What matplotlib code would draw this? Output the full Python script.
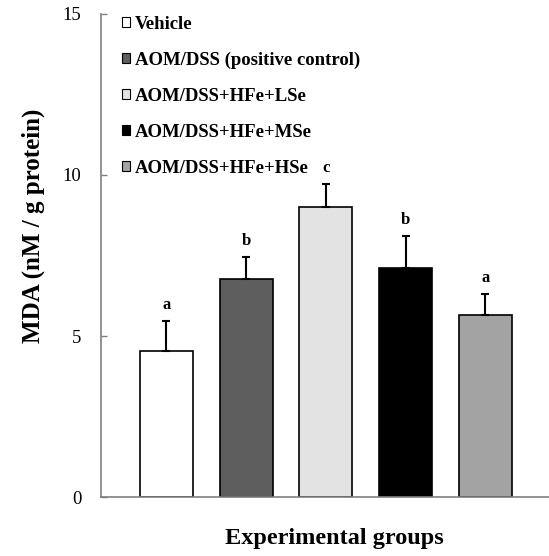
import matplotlib
matplotlib.use("Agg")
import matplotlib.pyplot as plt
from matplotlib.patches import Patch

groups = ["Vehicle", "AOM/DSS (positive control)", "AOM/DSS+HFe+LSe",
          "AOM/DSS+HFe+MSe", "AOM/DSS+HFe+HSe"]
values = [4.52, 6.77, 9.01, 7.11, 5.64]
errors = [0.94, 0.68, 0.72, 0.99, 0.66]
letters = ["a", "b", "c", "b", "a"]
colors = ["#ffffff", "#5e5e5e", "#e3e3e3", "#000000", "#a3a3a3"]
yticks = [0, 5, 10, 15]

plt.rcParams['font.family'] = ['Liberation Serif', 'DejaVu Serif']

fig = plt.figure(figsize=(5.49, 5.56), dpi=100)
ax = fig.add_axes([0.184, 0.106, 0.816, 0.869])

x = list(range(len(values)))
ax.bar(x, values, width=0.666, color=colors, edgecolor="black", linewidth=1.2, zorder=2)
ax.errorbar(x, values, yerr=[[0]*len(errors), errors], fmt="none", ecolor="black",
            elinewidth=1.5, capsize=3, capthick=1.5, zorder=3)
for xi, v, e, l in zip(x, values, errors, letters):
    ax.text(xi, v + e + 0.25, l, ha="center", va="bottom", fontsize=12, fontweight="bold")

ax.set_xlim(-0.82, 4.8)
ax.set_ylim(0, 15)
ax.set_yticks(yticks)
ax.set_xticks([])
ax.tick_params(axis="y", direction="in", length=4, width=1, color="#808080",
               labelsize=13.5, pad=14)
for s in ["top", "right"]:
    ax.spines[s].set_visible(False)
for s in ["left", "bottom"]:
    ax.spines[s].set_color("#808080")
    ax.spines[s].set_linewidth(1.2)

ax.set_ylabel("MDA (nM / g protein)", fontsize=18, fontweight="bold")
ax.yaxis.set_label_coords(-0.125, 0.561)
ax.set_xlabel("Experimental groups", fontsize=17.5, fontweight="bold")
ax.xaxis.set_label_coords(0.52, -0.065)

handles = [Patch(facecolor=c, edgecolor="black", linewidth=0.8) for c in colors]
leg = ax.legend(handles, groups, loc="upper left", bbox_to_anchor=(0.03, 1.012),
                frameon=False, prop={"weight": "bold", "size": 13.5},
                handlelength=0.45, handleheight=0.45, handletextpad=0.25,
                labelspacing=1.01, borderaxespad=0)

fig.savefig("out.png", dpi=100)
